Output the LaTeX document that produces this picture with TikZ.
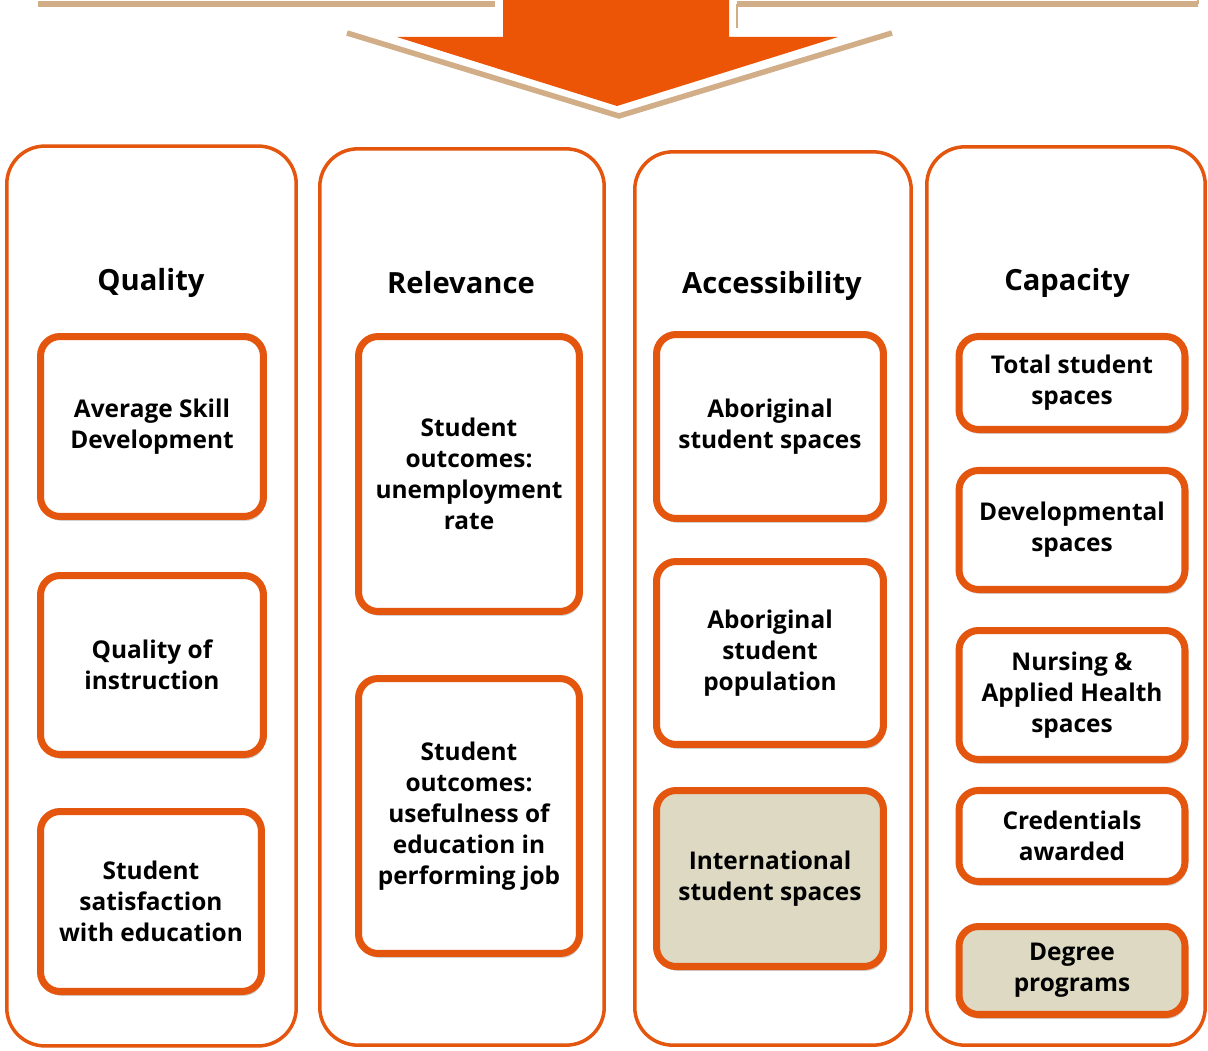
\documentclass[tikz,border=0pt]{standalone}
\usepackage{fontspec}
\setmainfont{Open Sans}
\usetikzlibrary{shadows}
\definecolor{boxorange}{RGB}{228,85,13}
\definecolor{arroworange}{RGB}{235,85,5}
\definecolor{tanline}{RGB}{210,174,136}
\definecolor{boxtan}{RGB}{221,217,195}

\begin{document}
\begin{tikzpicture}[x=0.02cm,y=0.02cm,
  column/.style={draw=boxorange,line width=2pt,rounded corners=0.76cm,inner sep=0pt},
  title/.style={font=\bfseries\fontsize{16.6}{20}\selectfont},
  item/.style={draw=boxorange,line width=4pt,rounded corners=0.39cm,fill=white,
    align=center,inner sep=0pt,font=\bfseries\fontsize{13.9}{17.6}\selectfont,
    drop shadow={shadow xshift=1pt,shadow yshift=-2.5pt,opacity=0.3,fill=black!60}},
  shaded/.style={item,fill=boxtan}]
\useasboundingbox (0,0) rectangle (1208,-1051);
% top bracket and arrow
\draw [tanline,line width=0.11cm] (38,-4) -- (495,-4);
\draw [tanline,line width=0.11cm] (737,-4) -- (1198,-4);
\draw [tanline,line width=1.2pt] (737,-4) -- (737,-28);
\draw [tanline,line width=1.2pt] (1198,-4) -- (1198,0);
\draw [tanline,line width=0.11cm] (347,-33) -- (619,-116) -- (892,-33);
\fill [arroworange] (503,0) -- (729,0) -- (729,-37) -- (838,-37) -- (617,-106) -- (397,-37) -- (503,-37) -- cycle;
% columns
\node [column,minimum width=5.79cm,minimum height=18.0cm] (quality) at (151.5,-596) {};
\node [column,minimum width=5.69cm,minimum height=17.93cm] (relevance) at (462,-597) {};
\node [column,minimum width=5.53cm,minimum height=17.87cm] (access) at (773,-598.5) {};
\node [column,minimum width=5.57cm,minimum height=17.97cm] (capacity) at (1066,-596) {};
\node [title] (qualityt) at (151,-283) {Quality};
\node [title] (relevancet) at (461,-283) {Relevance};
\node [title] (accesst) at (772,-286) {Accessibility};
\node [title] (capacityt) at (1067,-283) {Capacity};
% quality
\node [item,minimum width=4.46cm,minimum height=3.6cm] (qual1) at (152,-426.5) {Average Skill\\Development};
\node [item,minimum width=4.46cm,minimum height=3.58cm] (qual2) at (152,-665) {Quality of\\instruction};
\node [item,minimum width=4.42cm,minimum height=3.6cm] (qual3) at (151,-901.5) {Student\\satisfaction\\with education};
% relevance
\node [item,minimum width=4.42cm,minimum height=5.5cm] (rel1) at (469,-474) {Student\\outcomes:\\unemployment\\rate};
\node [item,minimum width=4.42cm,minimum height=5.5cm] (rel2) at (469,-816) {Student\\outcomes:\\usefulness of\\education in\\performing job};
% accessibility
\node [item,minimum width=4.54cm,minimum height=3.68cm] (acc1) at (770,-426.5) {Aboriginal\\student spaces};
\node [item,minimum width=4.54cm,minimum height=3.66cm] (acc2) at (770,-653) {Aboriginal\\student\\population};
\node [shaded,minimum width=4.54cm,minimum height=3.52cm] (acc3) at (770,-878.5) {International\\student spaces};
% capacity
\node [item,minimum width=4.52cm,minimum height=1.86cm] (cap1) at (1072,-383) {Total student\\spaces};
\node [item,minimum width=4.52cm,minimum height=2.38cm] (cap2) at (1072,-530) {Developmental\\spaces};
\node [item,minimum width=4.52cm,minimum height=2.58cm] (cap3) at (1072,-695) {Nursing \&\\Applied Health\\spaces};
\node [item,minimum width=4.52cm,minimum height=1.82cm] (cap4) at (1072,-836) {Credentials\\awarded};
\node [shaded,minimum width=4.52cm,minimum height=1.76cm] (cap5) at (1072,-970.5) {Degree\\programs};
\end{tikzpicture}
\end{document}
